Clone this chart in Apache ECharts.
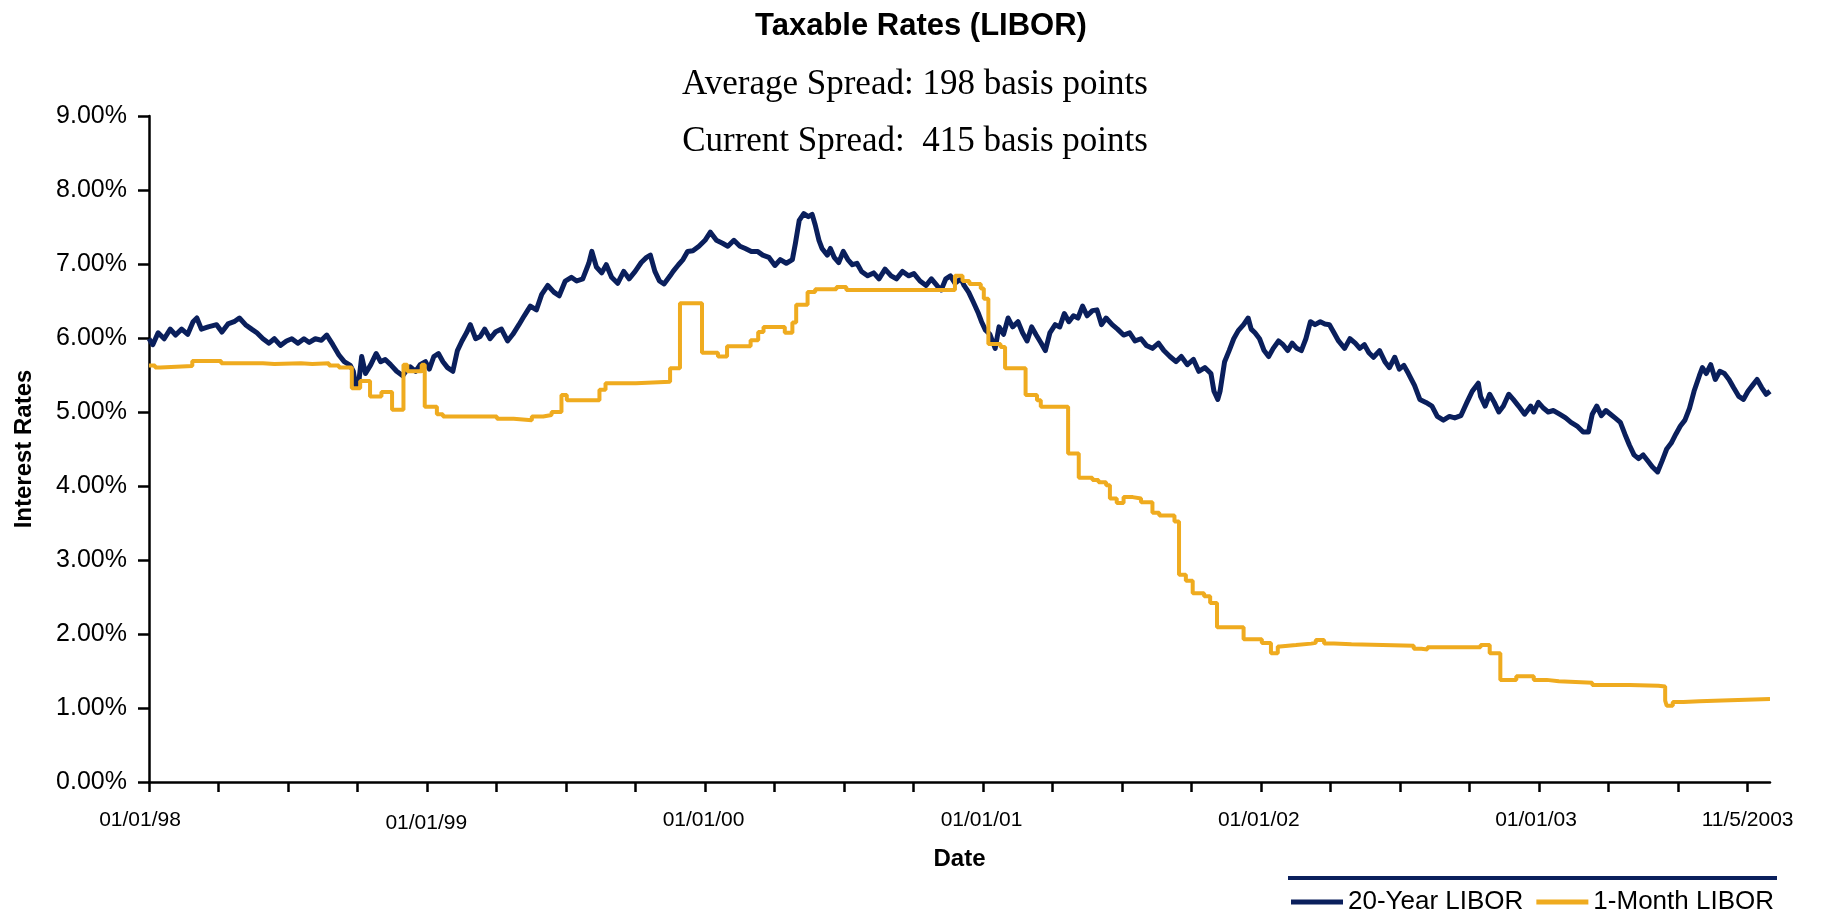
<!DOCTYPE html>
<html>
<head>
<meta charset="utf-8">
<title>Taxable Rates (LIBOR)</title>
<script src="https://cdn.jsdelivr.net/npm/echarts@6/dist/echarts.min.js"></script>
<style>
  html, body { margin: 0; padding: 0; background: #ffffff; }
  #chart { width: 1825px; height: 917px; }
</style>
</head>
<body>
<div id="chart"></div>
<script>
// Day offsets are counted from 01/01/1998; rates are in percent.
const chartTitle = 'Taxable Rates (LIBOR)';
const spreadLines = ['Average Spread: 198 basis points', 'Current Spread:  415 basis points'];
const seriesNames = ['20-Year LIBOR', '1-Month LIBOR'];

// 20-Year LIBOR: [day, rate]
const longLibor = [
  [0,5.99],[5,5.91],[12,6.07],[20,5.99],[28,6.12],[35,6.04],[43,6.12],[51,6.05],[58,6.22],[63,6.27],
  [69,6.12],[78,6.15],[89,6.18],[96,6.08],[104,6.19],[112,6.22],[119,6.27],[127,6.18],[135,6.12],[142,6.07],
  [150,5.99],[158,5.93],[165,5.99],[173,5.90],[181,5.96],[188,5.99],[196,5.93],[204,5.99],[211,5.94],[219,5.99],
  [227,5.97],[234,6.04],[242,5.91],[250,5.77],[257,5.68],[265,5.63],[269,5.55],[272,5.36],[276,5.39],[280,5.75],
  [285,5.52],[292,5.64],[299,5.79],[305,5.68],[311,5.71],[318,5.64],[326,5.55],[334,5.49],[338,5.55],[344,5.61],
  [351,5.55],[357,5.64],[364,5.68],[369,5.58],[375,5.75],[381,5.79],[387,5.68],[393,5.60],[400,5.55],[406,5.83],
  [412,5.96],[418,6.07],[423,6.18],[430,5.99],[436,6.02],[442,6.12],[449,5.99],[456,6.08],[464,6.12],[472,5.96],
  [479,6.05],[487,6.18],[494,6.30],[502,6.43],[510,6.38],[517,6.59],[525,6.71],[533,6.62],[540,6.57],[548,6.77],
  [556,6.82],[563,6.77],[571,6.80],[579,7.01],[583,7.17],[589,6.96],[596,6.88],[602,6.99],[609,6.82],[617,6.74],
  [625,6.90],[632,6.80],[640,6.90],[648,7.02],[655,7.09],[660,7.12],[666,6.90],[672,6.77],[678,6.73],[686,6.84],
  [690,6.90],[697,6.99],[703,7.06],[709,7.17],[716,7.18],[724,7.24],[732,7.32],[739,7.43],[747,7.32],[755,7.28],
  [762,7.24],[770,7.32],[778,7.24],[785,7.21],[793,7.17],[801,7.17],[808,7.12],[816,7.09],[824,6.98],[831,7.06],
  [839,7.01],[847,7.06],[851,7.28],[856,7.59],[862,7.68],[868,7.64],[873,7.67],[877,7.53],[882,7.32],[886,7.21],
  [893,7.12],[897,7.21],[902,7.09],[908,7.02],[914,7.17],[920,7.06],[926,6.99],[932,7.01],[938,6.90],[946,6.84],
  [954,6.88],[961,6.80],[969,6.93],[977,6.84],[984,6.80],[992,6.90],[1000,6.84],[1007,6.87],[1015,6.77],[1023,6.71],
  [1030,6.80],[1038,6.70],[1043,6.65],[1049,6.80],[1055,6.84],[1061,6.74],[1069,6.80],[1073,6.71],[1079,6.62],[1085,6.49],
  [1092,6.33],[1096,6.22],[1101,6.11],[1107,6.05],[1111,5.94],[1114,5.86],[1119,6.15],[1125,6.05],[1131,6.27],[1137,6.15],
  [1144,6.22],[1150,6.07],[1156,5.96],[1162,6.15],[1168,6.04],[1174,5.94],[1180,5.83],[1186,6.07],[1193,6.18],[1199,6.15],
  [1205,6.33],[1211,6.22],[1217,6.30],[1223,6.27],[1229,6.43],[1235,6.30],[1242,6.37],[1248,6.38],[1254,6.18],[1260,6.27],
  [1268,6.18],[1275,6.12],[1283,6.04],[1291,6.07],[1298,5.96],[1306,5.99],[1313,5.90],[1321,5.86],[1329,5.93],[1336,5.83],
  [1344,5.75],[1352,5.68],[1359,5.75],[1367,5.64],[1375,5.71],[1382,5.55],[1390,5.60],[1398,5.52],[1402,5.28],[1407,5.17],
  [1410,5.28],[1416,5.68],[1422,5.83],[1428,5.99],[1434,6.10],[1441,6.18],[1447,6.27],[1451,6.12],[1456,6.07],[1462,5.99],
  [1468,5.83],[1474,5.75],[1480,5.86],[1487,5.96],[1493,5.91],[1499,5.83],[1505,5.93],[1511,5.86],[1517,5.83],[1523,5.99],
  [1529,6.22],[1535,6.18],[1542,6.22],[1548,6.19],[1554,6.18],[1560,6.07],[1566,5.96],[1574,5.86],[1581,5.99],[1588,5.93],
  [1594,5.86],[1600,5.91],[1606,5.80],[1612,5.74],[1620,5.83],[1627,5.68],[1633,5.60],[1640,5.74],[1646,5.58],[1652,5.63],
  [1658,5.52],[1666,5.36],[1673,5.17],[1681,5.13],[1689,5.08],[1696,4.94],[1704,4.89],[1712,4.94],[1719,4.92],[1727,4.95],
  [1735,5.13],[1742,5.28],[1750,5.39],[1753,5.21],[1759,5.08],[1765,5.24],[1771,5.13],[1777,5.00],[1783,5.08],[1790,5.24],
  [1796,5.17],[1803,5.08],[1811,4.97],[1819,5.08],[1823,5.00],[1829,5.13],[1836,5.05],[1842,5.00],[1849,5.02],[1857,4.97],
  [1865,4.92],[1872,4.86],[1880,4.81],[1888,4.73],[1895,4.73],[1900,4.97],[1906,5.08],[1912,4.95],[1918,5.02],[1924,4.97],
  [1930,4.92],[1937,4.86],[1943,4.70],[1949,4.55],[1955,4.42],[1961,4.37],[1967,4.42],[1973,4.34],[1979,4.26],[1986,4.19],
  [1992,4.34],[1998,4.50],[2004,4.58],[2010,4.70],[2016,4.81],[2022,4.89],[2028,5.05],[2034,5.28],[2041,5.49],[2045,5.60],
  [2050,5.52],[2056,5.64],[2062,5.44],[2068,5.55],[2074,5.52],[2080,5.44],[2086,5.33],[2093,5.21],[2099,5.17],[2105,5.28],
  [2111,5.36],[2117,5.44],[2123,5.33],[2129,5.24],[2134,5.28]
];

// 1-Month LIBOR: [day the rate took effect, rate]
const shortLibor = [
  [0,5.63],[8,5.60],[15,5.62],[57,5.69],[95,5.66],[150,5.65],[165,5.66],[200,5.65],[215,5.66],[237,5.63],[250,5.60],
  [267,5.32],[278,5.42],[291,5.21],[306,5.27],[320,5.03],[335,5.64],[340,5.55],[359,5.64],[363,5.07],[379,4.97],[387,4.94],
  [458,4.91],[480,4.89],[504,4.94],[519,4.96],[530,5.00],[543,5.23],[550,5.16],[593,5.30],[601,5.39],[641,5.41],[686,5.59],
  [699,6.47],[728,5.80],[749,5.75],[761,5.89],[792,5.97],[802,6.08],[809,6.15],[837,6.07],[847,6.21],[852,6.45],[867,6.62],
  [877,6.66],[905,6.69],[918,6.65],[1061,6.84],[1071,6.77],[1080,6.73],[1095,6.67],[1099,6.53],[1105,5.92],[1121,5.88],
  [1127,5.59],[1154,5.23],[1169,5.16],[1174,5.07],[1210,4.44],[1224,4.11],[1242,4.08],[1250,4.05],[1260,4.01],[1265,3.83],
  [1274,3.77],[1283,3.85],[1295,3.83],[1306,3.78],[1321,3.64],[1330,3.60],[1350,3.52],[1356,2.80],[1365,2.72],[1374,2.55],
  [1389,2.51],[1397,2.42],[1406,2.09],[1441,1.93],[1465,1.88],[1477,1.74],[1486,1.83],[1489,1.85],[1510,1.87],[1530,1.88],
  [1536,1.92],[1547,1.87],[1560,1.86],[1583,1.84],[1665,1.80],[1675,1.79],[1683,1.82],[1753,1.85],[1765,1.74],[1779,1.38],
  [1800,1.43],[1823,1.38],[1840,1.36],[1856,1.34],[1900,1.31],[1949,1.30],[1987,1.29],[1996,1.10],[1998,1.03],[2006,1.08],
  [2020,1.09],[2041,1.10],[2071,1.12],[2134,1.12]
];

// Date axis: quarterly tick marks, labels at year starts and at the last tick
const axisEndDay = 2134;
const quarterDays = 91.5;
const tickCount = 24;
const labelDays = [0, 365, 730, 1096, 1461, 1826, 2104.5];
const labelTexts = ['01/01/98', '01/01/99', '01/01/00', '01/01/01', '01/01/02', '01/01/03', '11/5/2003'];

const tickDays = [];
for (let i = 0; i < tickCount; i++) tickDays.push(i * quarterDays);

const NAVY = '#0A1F5C';
const GOLD = '#EFAB1F';
const SANS = '"Liberation Sans", Arial, Helvetica, sans-serif';
const SERIF = '"Liberation Serif", "Times New Roman", serif';

const labelRich = {
  d: { fontFamily: SANS, fontSize: 21, color: '#000' },
  first: { fontFamily: SANS, fontSize: 21, color: '#000', padding: [0, 18, 0, 0] },
  low: { fontFamily: SANS, fontSize: 21, color: '#000', padding: [3, 0, 0, 0] }
};

const chart = echarts.init(document.getElementById('chart'), null, { renderer: 'canvas' });

chart.setOption({
  animation: false,
  backgroundColor: '#ffffff',
  grid: { left: 149, right: 55, top: 116, bottom: 135, containLabel: false },
  legend: {
    left: 1291,
    top: 889,
    padding: 0,
    icon: 'rect',
    itemWidth: 52,
    itemHeight: 5,
    itemGap: 13,
    textStyle: { fontFamily: SANS, fontSize: 26, color: '#000' },
    data: seriesNames
  },
  xAxis: {
    type: 'value',
    min: 0,
    max: axisEndDay,
    name: 'Date',
    nameLocation: 'middle',
    nameGap: 65,
    nameTextStyle: { fontFamily: SANS, fontSize: 24, fontWeight: 'bold', color: '#000' },
    axisLine: { show: true, onZero: false, lineStyle: { color: '#000', width: 2.5 } },
    axisTick: { show: true, length: 10, customValues: tickDays, lineStyle: { color: '#000', width: 2.5 } },
    axisLabel: {
      show: true,
      margin: 28,
      customValues: labelDays,
      fontFamily: SANS,
      fontSize: 21,
      color: '#000',
      formatter: function (v) {
        let idx = -1;
        for (let i = 0; i < labelDays.length; i++) {
          if (Math.abs(labelDays[i] - v) < 0.01) idx = i;
        }
        if (idx < 0) return '';
        const key = idx === 0 ? 'first' : (idx === 1 ? 'low' : 'd');
        return '{' + key + '|' + labelTexts[idx] + '}';
      },
      rich: labelRich
    },
    splitLine: { show: false }
  },
  yAxis: {
    type: 'value',
    min: 0,
    max: 9,
    interval: 1,
    name: 'Interest Rates',
    nameLocation: 'middle',
    nameGap: 113,
    nameRotate: 90,
    nameTextStyle: { fontFamily: SANS, fontSize: 24, fontWeight: 'bold', color: '#000' },
    axisLine: { show: true, lineStyle: { color: '#000', width: 2.5 } },
    axisTick: { show: true, length: 11, lineStyle: { color: '#000', width: 2.5 } },
    axisLabel: {
      margin: 22,
      fontFamily: SANS,
      fontSize: 25,
      color: '#000',
      formatter: function (v) { return v.toFixed(2) + '%'; }
    },
    splitLine: { show: false }
  },
  series: [
    {
      name: seriesNames[0],
      type: 'line',
      data: longLibor,
      symbol: 'none',
      showSymbol: false,
      lineStyle: { color: NAVY, width: 5, join: 'round' },
      itemStyle: { color: NAVY },
      z: 2
    },
    {
      name: seriesNames[1],
      type: 'line',
      step: 'end',
      data: shortLibor,
      symbol: 'none',
      showSymbol: false,
      lineStyle: { color: GOLD, width: 4 },
      itemStyle: { color: GOLD },
      z: 3
    }
  ],
  graphic: [
    {
      type: 'text', x: 921, y: 26, silent: true,
      style: { text: chartTitle, font: 'bold 31px ' + SANS, fill: '#000',
               textAlign: 'center', textVerticalAlign: 'middle', align: 'center', verticalAlign: 'middle' }
    },
    {
      type: 'text', x: 915, y: 85, silent: true,
      style: { text: spreadLines[0], font: '35px ' + SERIF, fill: '#000',
               textAlign: 'center', textVerticalAlign: 'middle', align: 'center', verticalAlign: 'middle' }
    },
    {
      type: 'text', x: 915, y: 142, silent: true,
      style: { text: spreadLines[1], font: '35px ' + SERIF, fill: '#000',
               textAlign: 'center', textVerticalAlign: 'middle', align: 'center', verticalAlign: 'middle' }
    },
    {
      type: 'line', silent: true,
      shape: { x1: 1288, y1: 878, x2: 1777, y2: 878 },
      style: { stroke: NAVY, lineWidth: 4 }
    }
  ]
});
</script>
</body>
</html>
